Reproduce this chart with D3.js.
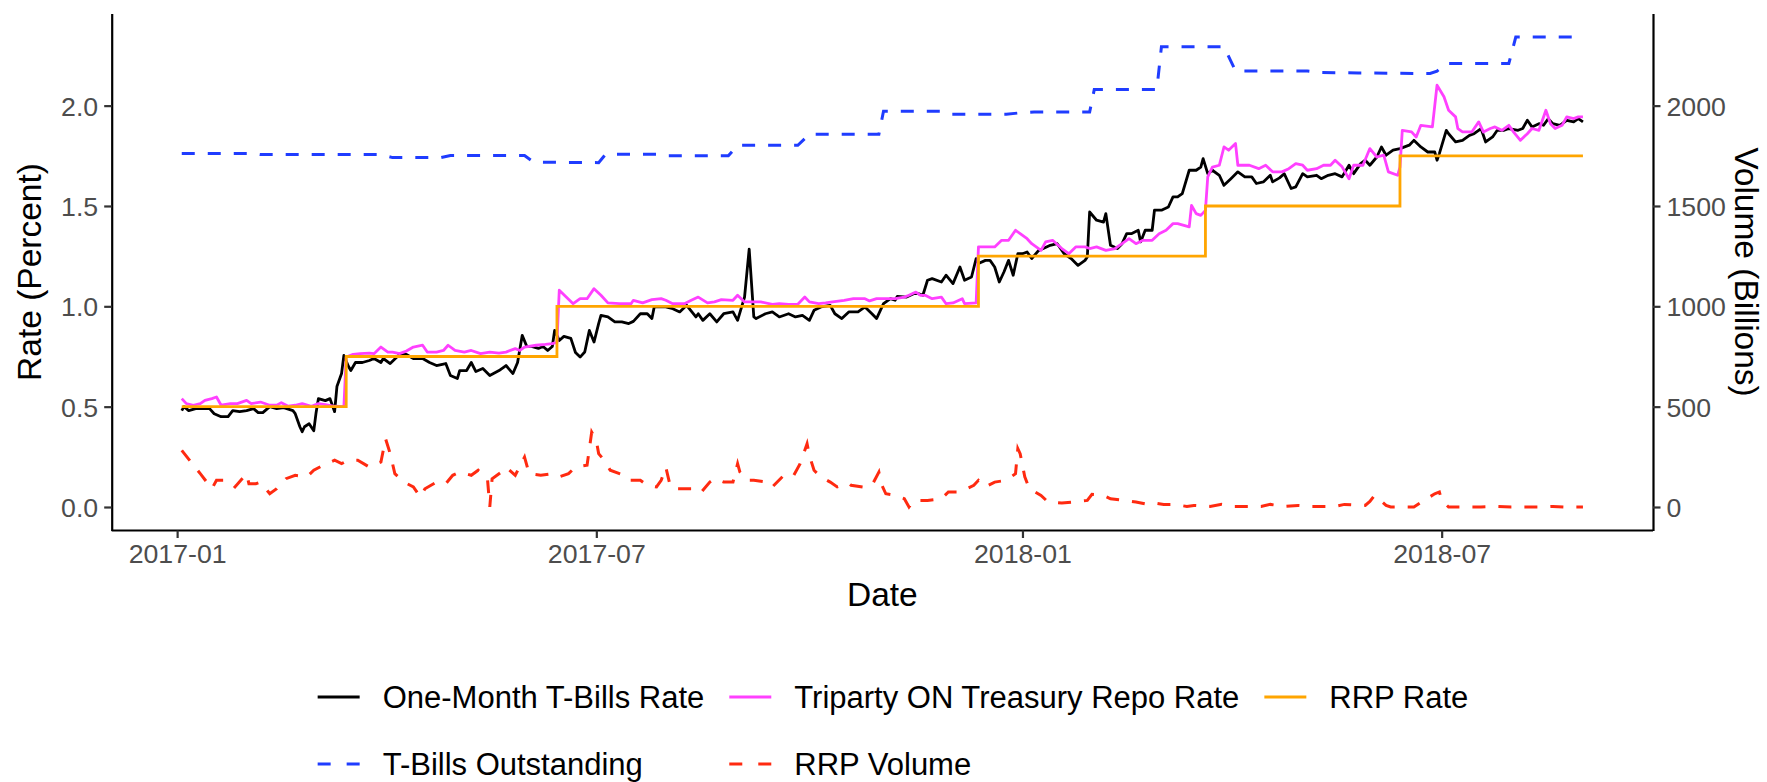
<!DOCTYPE html>
<html><head><meta charset="utf-8">
<script src="https://cdn.jsdelivr.net/npm/d3@7"></script>
<style>
body{margin:0;background:#fff}
svg{display:block}
text{font-family:"Liberation Sans",Arial,Helvetica,sans-serif}
</style>
</head><body>
<svg id="chart" width="1767" height="782"></svg>
<script>
// ---- DATA (x = days since 2017-01-01) ----
const seriesNames = ["One-Month T-Bills Rate","Triparty ON Treasury Repo Rate","RRP Rate","T-Bills Outstanding","RRP Volume"];
const xTickLabels = ["2017-01","2017-07","2018-01","2018-07"];
const rateTicks = [0,0.5,1.0,1.5,2.0];
const volumeTicks = [0,500,1000,1500,2000];

// One-Month T-Bills rate (percent)
const tbillRate = [[2,0.48],[3,0.50],[5,0.48],[8,0.49],[11,0.49],[14,0.49],[16,0.465],[19,0.45],[22,0.45],[24,0.48],[27,0.475],[30,0.48],[33,0.49],[35,0.47],[37,0.47],[40,0.50],[43,0.49],[46,0.495],[50,0.48],[51,0.465],[53,0.40],[54,0.375],[55,0.40],[57,0.415],[59,0.38],[60,0.47],[61,0.54],[64,0.53],[66,0.54],[68,0.475],[69,0.60],[71,0.665],[72,0.755],[74,0.70],[75,0.68],[77,0.72],[80,0.72],[83,0.73],[85,0.74],[88,0.72],[89,0.74],[92,0.715],[96,0.76],[99,0.76],[102,0.74],[106,0.74],[109,0.72],[112,0.705],[116,0.715],[118,0.655],[121,0.64],[122,0.68],[125,0.68],[127,0.72],[129,0.675],[132,0.69],[135,0.655],[139,0.68],[142,0.705],[145,0.665],[147,0.72],[149,0.855],[151,0.80],[153,0.80],[156,0.79],[158,0.80],[160,0.78],[162,0.80],[163,0.88],[165,0.83],[167,0.85],[170,0.84],[172,0.77],[174,0.747],[176,0.772],[178,0.88],[180,0.822],[182,0.914],[183,0.955],[186,0.947],[189,0.922],[192,0.922],[195,0.914],[197,0.925],[200,0.963],[203,0.963],[205,0.939],[206,0.997],[211,0.997],[214,0.988],[217,0.972],[220,1.005],[224,0.947],[225,0.963],[227,0.93],[230,0.963],[233,0.922],[236,0.963],[240,0.972],[242,0.93],[245,1.046],[247,1.285],[249,0.947],[250,0.939],[254,0.963],[257,0.972],[260,0.947],[264,0.963],[267,0.947],[270,0.955],[273,0.93],[275,0.98],[278,0.997],[282,1.005],[284,0.963],[287,0.939],[290,0.972],[294,0.972],[297,0.997],[300,0.963],[302,0.939],[305,1.013],[308,1.038],[310,1.03],[311,1.05],[315,1.046],[318,1.063],[320,1.063],[322,1.055],[324,1.13],[326,1.138],[330,1.121],[332,1.155],[335,1.113],[338,1.196],[340,1.13],[343,1.146],[345,1.238],[346,1.213],[349,1.229],[351,1.229],[353,1.196],[355,1.121],[357,1.171],[359,1.229],[361,1.155],[363,1.262],[365,1.262],[367,1.271],[369,1.238],[372,1.279],[374,1.288],[377,1.304],[380,1.312],[383,1.262],[386,1.238],[389,1.204],[392,1.229],[393,1.246],[394,1.47],[397,1.429],[400,1.42],[401,1.462],[403,1.304],[406,1.288],[408,1.312],[410,1.362],[412,1.362],[415,1.379],[416,1.321],[418,1.379],[421,1.379],[422,1.479],[425,1.479],[428,1.495],[430,1.545],[432,1.545],[434,1.562],[437,1.678],[440,1.678],[442,1.694],[443,1.736],[445,1.661],[447,1.678],[450,1.653],[452,1.603],[455,1.636],[458,1.67],[461,1.645],[464,1.645],[466,1.612],[469,1.62],[472,1.653],[473,1.62],[476,1.64],[478,1.661],[481,1.587],[483,1.595],[486,1.661],[488,1.645],[492,1.653],[494,1.636],[497,1.653],[500,1.661],[503,1.645],[506,1.703],[508,1.661],[511,1.711],[513,1.728],[515,1.703],[518,1.744],[520,1.794],[522,1.753],[525,1.778],[528,1.786],[532,1.803],[534,1.827],[537,1.794],[540,1.769],[543,1.769],[544,1.728],[545,1.761],[548,1.877],[549,1.86],[552,1.819],[555,1.827],[558,1.852],[560,1.86],[563,1.886],[565,1.819],[568,1.844],[570,1.877],[573,1.877],[575,1.886],[579,1.877],[581,1.886],[583,1.927],[585,1.894],[588,1.91],[590,1.902],[592,1.935],[594,1.91],[597,1.902],[600,1.927],[603,1.919],[605,1.935],[607,1.919]];

// Triparty ON Treasury repo rate (percent)
const repoRate = [[2,0.54],[4,0.515],[7,0.507],[10,0.515],[12,0.531],[15,0.54],[17,0.548],[19,0.507],[23,0.515],[26,0.515],[30,0.531],[32,0.515],[36,0.523],[40,0.507],[43,0.507],[45,0.52],[48,0.502],[51,0.507],[54,0.515],[58,0.502],[61,0.515],[64,0.51],[68,0.502],[72,0.50],[73,0.747],[76,0.761],[79,0.764],[83,0.767],[85,0.764],[88,0.797],[91,0.772],[93,0.772],[96,0.764],[99,0.777],[102,0.797],[106,0.806],[108,0.772],[112,0.772],[115,0.78],[117,0.806],[120,0.78],[124,0.772],[127,0.78],[131,0.764],[135,0.772],[139,0.767],[142,0.772],[146,0.789],[148,0.78],[150,0.797],[155,0.806],[159,0.81],[162,0.814],[164,0.82],[165,1.08],[168,1.046],[171,1.013],[174,1.038],[177,1.038],[180,1.088],[183,1.055],[186,1.017],[191,1.013],[196,1.013],[197,1.03],[201,1.017],[205,1.033],[209,1.038],[211,1.03],[214,1.013],[219,1.013],[222,1.03],[225,1.046],[229,1.017],[232,1.022],[235,1.033],[240,1.03],[242,1.055],[245,1.022],[248,1.022],[252,1.022],[257,1.01],[260,1.013],[264,1.01],[268,1.01],[271,1.046],[273,1.022],[277,1.013],[280,1.017],[283,1.022],[288,1.03],[292,1.038],[297,1.038],[299,1.027],[302,1.038],[305,1.038],[310,1.038],[314,1.046],[316,1.055],[319,1.071],[321,1.055],[323,1.055],[326,1.038],[330,1.046],[332,1.013],[335,1.017],[339,1.038],[340,1.013],[345,1.017],[346,1.296],[353,1.296],[356,1.329],[359,1.329],[362,1.379],[364,1.362],[367,1.337],[369,1.312],[373,1.279],[375,1.321],[378,1.329],[382,1.288],[385,1.262],[388,1.296],[392,1.296],[394,1.288],[397,1.296],[401,1.279],[405,1.288],[408,1.312],[411,1.337],[414,1.312],[417,1.329],[421,1.329],[424,1.362],[427,1.379],[430,1.412],[432,1.412],[437,1.396],[438,1.503],[440,1.462],[442,1.453],[444,1.478],[445,1.645],[447,1.694],[450,1.703],[452,1.794],[454,1.778],[457,1.811],[458,1.703],[463,1.703],[467,1.686],[470,1.703],[473,1.67],[477,1.67],[480,1.686],[483,1.711],[486,1.703],[488,1.678],[492,1.686],[495,1.703],[498,1.703],[500,1.728],[503,1.695],[506,1.636],[508,1.703],[512,1.703],[515,1.786],[518,1.744],[521,1.753],[523,1.67],[527,1.653],[528,1.694],[529,1.877],[533,1.869],[535,1.844],[537,1.902],[542,1.894],[544,2.102],[547,2.044],[549,1.977],[552,1.944],[553,1.885],[555,1.869],[559,1.869],[562,1.919],[564,1.869],[567,1.886],[569,1.894],[572,1.877],[575,1.902],[577,1.869],[580,1.827],[583,1.86],[585,1.886],[588,1.877],[591,1.977],[593,1.91],[595,1.886],[598,1.902],[600,1.944],[603,1.935],[605,1.944],[607,1.944]];

// RRP offering rate (percent), value in force from that day on
const rrpRate = [[2,0.50],[73,0.75],[164,1.00],[346,1.25],[444,1.50],[528,1.75],[607,1.75]];

// T-Bills outstanding (billions)
const tbillOutstanding = [[2,1761],[33,1761],[36,1756],[88,1756],[93,1741],[114,1741],[118,1751],[150,1751],[154,1718],[182,1716],[185,1758],[209,1758],[212,1750],[238,1750],[242,1802],[268,1802],[273,1857],[303,1857],[305,1972],[330,1972],[334,1957],[358,1957],[363,1963],[370,1968],[394,1968],[396,2080],[423,2080],[425,2293],[452,2293],[457,2173],[488,2173],[494,2165],[510,2163],[541,2160],[544,2172],[548,2210],[575,2210],[578,2342],[607,2342]];

// RRP volume (billions)
const rrpVolume = [[2,282],[10,166],[15,91],[17,133],[22,133],[25,100],[30,166],[31,116],[34,116],[36,124],[40,66],[43,91],[47,141],[51,158],[56,150],[59,183],[63,208],[68,233],[71,216],[74,233],[78,233],[83,199],[88,224],[90,340],[92,266],[94,166],[98,124],[102,100],[105,50],[107,91],[112,124],[116,116],[119,158],[122,174],[127,158],[130,183],[134,141],[135,0],[136,141],[140,174],[142,199],[146,158],[150,249],[152,166],[157,158],[162,166],[165,150],[169,166],[172,199],[177,208],[179,373],[181,332],[182,266],[185,224],[187,183],[193,158],[195,133],[200,133],[203,108],[207,100],[209,133],[211,199],[213,100],[216,91],[222,91],[226,70],[230,124],[232,141],[236,124],[240,124],[242,216],[243,174],[246,133],[249,133],[255,124],[257,100],[262,158],[266,153],[269,216],[272,315],[273,257],[275,183],[278,150],[282,124],[285,100],[290,119],[291,108],[296,100],[300,108],[303,174],[304,116],[306,66],[310,58],[314,41],[316,0],[318,33],[321,33],[324,33],[330,41],[333,75],[338,75],[344,108],[346,133],[349,100],[353,124],[358,133],[362,166],[363,291],[364,266],[366,150],[368,91],[373,58],[376,25],[382,20],[387,25],[393,33],[395,63],[400,58],[403,41],[409,33],[414,25],[419,13],[422,20],[426,13],[430,13],[436,3],[439,8],[446,3],[451,13],[456,3],[461,3],[468,3],[472,13],[478,3],[484,8],[490,3],[500,3],[504,13],[513,8],[515,28],[517,58],[522,8],[524,0],[534,0],[543,66],[545,75],[546,33],[549,0],[556,0],[563,0],[570,3],[576,0],[580,0],[589,0],[594,3],[599,0],[607,0]];

const colors = {tbill:"#000000", repo:"#ff40ff", rrp:"#ffa500", out:"#1f3cff", vol:"#ff2a10"};

// ---- LAYOUT ----
const svg = d3.select("#chart");
const P = {left:111.7, right:1653, top:13.5, bottom:530.5};
const T0 = Date.UTC(2017,0,1);
const toDate = d => new Date(T0 + d*864e5);
const volToRate = v => v/1000;

// x domain: data range + 5% expansion (like ggplot)
const allDays = [tbillRate,repoRate,rrpRate,tbillOutstanding,rrpVolume].flat().map(d=>d[0]);
const dMin = d3.min(allDays), dMax = d3.max(allDays), dR = dMax-dMin;
const x = d3.scaleUtc().domain([toDate(dMin-0.05*dR), toDate(dMax+0.05*dR)]).range([P.left,P.right]);

const allVals = [...tbillRate.map(d=>d[1]),...repoRate.map(d=>d[1]),...rrpRate.map(d=>d[1]),
  ...tbillOutstanding.map(d=>volToRate(d[1])),...rrpVolume.map(d=>volToRate(d[1]))];
const vMin = d3.min(allVals), vMax = d3.max(allVals), vR = vMax-vMin;
const y = d3.scaleLinear().domain([vMin-0.05*vR, vMax+0.05*vR]).range([P.bottom,P.top]);
const yVol = d3.scaleLinear().domain(y.domain().map(v=>v*1000)).range([P.bottom,P.top]);

// ---- LINES ----
const lw = 2.8;
const lineRate = d3.line().x(d=>x(toDate(d[0]))).y(d=>y(d[1]));
const lineVol = d3.line().x(d=>x(toDate(d[0]))).y(d=>yVol(d[1]));
const lineStep = d3.line().x(d=>x(toDate(d[0]))).y(d=>y(d[1])).curve(d3.curveStepAfter);

const g = svg.append("g");
g.append("path").attr("d",lineRate(tbillRate)).attr("fill","none").attr("stroke",colors.tbill).attr("stroke-width",lw).attr("stroke-linejoin","round");
g.append("path").attr("d",lineRate(repoRate)).attr("fill","none").attr("stroke",colors.repo).attr("stroke-width",lw).attr("stroke-linejoin","round");
g.append("path").attr("d",lineStep(rrpRate)).attr("fill","none").attr("stroke",colors.rrp).attr("stroke-width",lw);
g.append("path").attr("d",lineVol(tbillOutstanding)).attr("fill","none").attr("stroke",colors.out).attr("stroke-width",lw+0.2).attr("stroke-dasharray","13,13");
g.append("path").attr("d",lineVol(rrpVolume)).attr("fill","none").attr("stroke",colors.vol).attr("stroke-width",lw+0.2).attr("stroke-dasharray","13,13");

// ---- AXES ----
const tickFont = 26.7, titleFont = 33.5, legendFont = 31;
function styleAxis(sel){
  sel.select(".domain").attr("stroke","#000").attr("stroke-width",2.2);
  sel.selectAll(".tick line").attr("stroke","#333").attr("stroke-width",2.2);
  sel.selectAll(".tick text").attr("fill","#4d4d4d").style("font-size",tickFont+"px").style("font-family",'"Liberation Sans",Arial,sans-serif');
}
const xTickDates = xTickLabels.map(s=>{const [yy,mm]=s.split("-").map(Number);return new Date(Date.UTC(yy,mm-1,1));});
const xAxis = svg.append("g").attr("transform",`translate(0,${P.bottom})`)
  .call(d3.axisBottom(x).tickValues(xTickDates).tickFormat((d,i)=>xTickLabels[i]).tickSizeInner(7.5).tickSizeOuter(0).tickPadding(6));
styleAxis(xAxis);
xAxis.select(".domain").attr("d",`M${P.left},0H${P.right}`);

const yAxis = svg.append("g").attr("transform",`translate(${P.left},0)`)
  .call(d3.axisLeft(y).tickValues(rateTicks).tickFormat(d3.format(".1f")).tickSizeInner(7.5).tickSizeOuter(0).tickPadding(6));
styleAxis(yAxis);
yAxis.selectAll(".tick text").attr("dy","0.36em");

const y2Axis = svg.append("g").attr("transform",`translate(${P.right},0)`)
  .call(d3.axisRight(yVol).tickValues(volumeTicks).tickFormat(d3.format("d")).tickSizeInner(7.5).tickSizeOuter(0).tickPadding(6));
styleAxis(y2Axis);
y2Axis.selectAll(".tick text").attr("dy","0.36em");

// ---- TITLES ----
const midY = (P.top+P.bottom)/2;
svg.append("text").attr("transform",`translate(40.5,${midY}) rotate(-90)`).attr("text-anchor","middle")
  .style("font-size",titleFont+"px").attr("fill","#000").text("Rate (Percent)");
svg.append("text").attr("transform",`translate(1735,${midY}) rotate(90)`).attr("text-anchor","middle")
  .style("font-size",titleFont+"px").attr("fill","#000").text("Volume (Billions)");
svg.append("text").attr("x",(P.left+P.right)/2).attr("y",606).attr("text-anchor","middle")
  .style("font-size",titleFont+"px").attr("fill","#000").text("Date");

// ---- LEGEND ----
const legendItems = [
  {name:seriesNames[0], color:colors.tbill, dash:null, row:0, col:0},
  {name:seriesNames[1], color:colors.repo, dash:null, row:0, col:1},
  {name:seriesNames[2], color:colors.rrp, dash:null, row:0, col:2},
  {name:seriesNames[3], color:colors.out, dash:"13,16", row:1, col:0},
  {name:seriesNames[4], color:colors.vol, dash:"13,16", row:1, col:1}
];
const rowY = [697, 764];
const keyW = 42, keyGap = 23, colGap = 25, legendCenter = 893;
const lg = svg.append("g");
const texts = legendItems.map(it => lg.append("text").style("font-size",legendFont+"px").attr("fill","#000").text(it.name));
const widths = texts.map(t=>t.node().getComputedTextLength());
const colW = [0,1,2].map(c=>d3.max(legendItems.map((it,i)=>it.col===c?widths[i]:0)));
const totalW = colW.reduce((a,w)=>a+keyW+keyGap+w,0) + colGap*2;
const colX = [];
let cx = legendCenter - totalW/2;
colW.forEach(w=>{colX.push(cx); cx += keyW+keyGap+w+colGap;});
legendItems.forEach((it,i)=>{
  const x0 = colX[it.col], yy = rowY[it.row];
  const l = lg.append("line").attr("x1",x0).attr("x2",x0+keyW).attr("y1",yy).attr("y2",yy)
    .attr("stroke",it.color).attr("stroke-width",lw);
  if(it.dash) l.attr("stroke-dasharray",it.dash);
  texts[i].attr("x",x0+keyW+keyGap).attr("y",yy+11);
});
</script>
</body></html>
